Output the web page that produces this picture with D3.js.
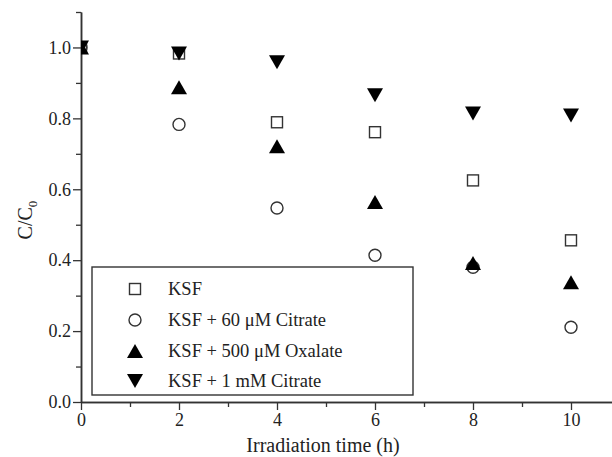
<!DOCTYPE html>
<html>
<head>
<meta charset="utf-8">
<script src="https://cdn.jsdelivr.net/npm/d3@7"></script>
<style>
  html, body { margin: 0; padding: 0; background: #fff; }
  svg { display: block; }
  svg text { font-family: "Liberation Serif", "Times New Roman", Times, "DejaVu Serif", serif; fill: #222; }
</style>
</head>
<body>
<svg id="chart" width="612" height="457"></svg>
<script>
// Irradiation times (h)
const times = [0, 2, 4, 6, 8, 10];

// C/C0 for each condition
const ksf         = [1.00, 0.983, 0.789, 0.761, 0.625, 0.456];
const citrate60   = [1.00, 0.783, 0.547, 0.414, 0.380, 0.211];
const oxalate500  = [1.00, 0.888, 0.721, 0.564, 0.392, 0.338];
const citrate1mM  = [1.00, 0.983, 0.958, 0.865, 0.814, 0.808];

const seriesNames = ["KSF", "KSF + 60 \u03BCM Citrate", "KSF + 500 \u03BCM Oxalate", "KSF + 1 mM Citrate"];
const seriesValues = [ksf, citrate60, oxalate500, citrate1mM];
const seriesSymbols = ["square", "circle", "triUp", "triDown"];

const xMajor = [0, 2, 4, 6, 8, 10];
const xMinor = [1, 3, 5, 7, 9, 11];
const yMajor = [0, 0.2, 0.4, 0.6, 0.8, 1.0];
const yMinor = [0.1, 0.3, 0.5, 0.7, 0.9, 1.1];

const svg = d3.select("#chart");
const axisColor = "#333";
const serif = "'Liberation Serif', 'Times New Roman', Times, 'DejaVu Serif', serif";

const x = d3.scaleLinear().domain([0, 11]).range([81, 620]);
const y = d3.scaleLinear().domain([0, 1.1]).range([402, 12]);

// Plot-area clip so points on the y axis are cut at the frame
svg.append("defs").append("clipPath").attr("id", "plot-clip")
  .append("rect").attr("x", x(0)).attr("y", 0).attr("width", 612 - x(0)).attr("height", y(0));

// Marker drawing
function drawMarker(g, type, cx, cy) {
  if (type === "square") {
    g.append("rect").attr("x", cx - 5.5).attr("y", cy - 5.5)
      .attr("width", 11).attr("height", 11)
      .attr("fill", "none").attr("stroke", "#333").attr("stroke-width", 1.4);
  } else if (type === "circle") {
    g.append("circle").attr("cx", cx).attr("cy", cy).attr("r", 6)
      .attr("fill", "none").attr("stroke", "#333").attr("stroke-width", 1.4);
  } else if (type === "triUp") {
    const w = 8, h = 7;
    g.append("path").attr("d", `M${cx},${cy - h} L${cx + w},${cy + h} L${cx - w},${cy + h} Z`)
      .attr("fill", "#000");
  } else if (type === "triDown") {
    const w = 8, h = 7;
    g.append("path").attr("d", `M${cx - w},${cy - h} L${cx + w},${cy - h} L${cx},${cy + h} Z`)
      .attr("fill", "#000");
  }
}

// Axes
const xAxis = svg.append("g").attr("transform", `translate(0,${y(0)})`)
  .call(d3.axisBottom(x).tickValues(xMajor).tickFormat(d3.format("d")).tickSize(8).tickSizeOuter(0));
const xAxisMinor = svg.append("g").attr("transform", `translate(0,${y(0)})`)
  .call(d3.axisBottom(x).tickValues(xMinor).tickFormat("").tickSize(5).tickSizeOuter(0));

const yAxis = svg.append("g").attr("transform", `translate(${x(0)},0)`)
  .call(d3.axisLeft(y).tickValues(yMajor).tickFormat(d3.format(".1f")).tickSize(8).tickSizeOuter(0));
const yAxisMinor = svg.append("g").attr("transform", `translate(${x(0)},0)`)
  .call(d3.axisLeft(y).tickValues(yMinor).tickFormat("").tickSize(5).tickSizeOuter(0));

[xAxis, xAxisMinor, yAxis, yAxisMinor].forEach(a => {
  a.attr("font-family", serif).attr("font-size", 18);
  a.selectAll("path.domain").attr("stroke", axisColor).attr("stroke-width", 1.5);
  a.selectAll(".tick line").attr("stroke", axisColor).attr("stroke-width", 1.3);
  a.selectAll(".tick text").attr("fill", "#222");
});
yAxis.selectAll(".tick text").attr("x", -10);

// Axis titles
svg.append("text").attr("x", 323).attr("y", 452).attr("text-anchor", "middle")
  .attr("font-family", serif).attr("font-size", 20).text("Irradiation time (h)");

const yt = svg.append("text").attr("transform", "translate(32,220) rotate(-90)")
  .attr("text-anchor", "middle").attr("font-family", serif).attr("font-size", 20);
yt.append("tspan").text("C/C");
yt.append("tspan").attr("font-size", 13).attr("dy", 5).text("0");

// Legend
const leg = svg.append("g").attr("font-family", serif);
leg.append("rect").attr("x", 92).attr("y", 267).attr("width", 321).attr("height", 128)
  .attr("fill", "#fff").attr("stroke", axisColor).attr("stroke-width", 1.4);
const legRows = [289, 320, 351, 381];
seriesNames.forEach((name, i) => {
  drawMarker(leg, seriesSymbols[i], 135, legRows[i]);
  leg.append("text").attr("x", 168).attr("y", legRows[i] + 6)
    .attr("font-size", 18.5).text(name);
});

// Data points
const pts = svg.append("g").attr("clip-path", "url(#plot-clip)");
seriesValues.forEach((vals, i) => {
  vals.forEach((v, j) => drawMarker(pts, seriesSymbols[i], x(times[j]), y(v)));
});
</script>
</body>
</html>
